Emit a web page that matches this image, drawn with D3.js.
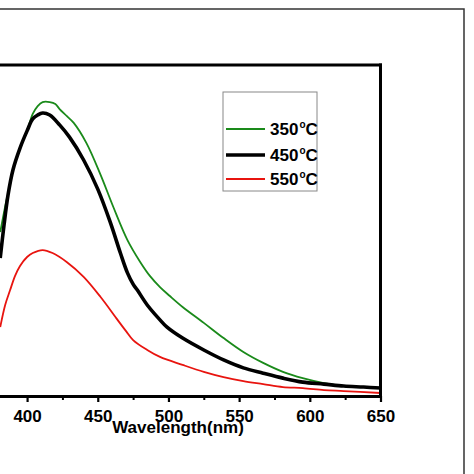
<!DOCTYPE html>
<html><head><meta charset="utf-8">
<script src="https://cdn.jsdelivr.net/npm/d3@7"></script>
<style>html,body{margin:0;padding:0;background:#fff;}svg{display:block;}</style>
</head><body>
<script>
// Wavelength (nm) and PL intensity (a.u.)
const wl350 = [381,383.7,386,386.5,390,395,400,404,407.5,411,416,420,423,428,433,442,452,461,471,480,487,494,501,510,525,539,553,567,581,595,610,624,638,650];
const int350 = [495,555,602,607,683,749,801,852,876,888,888,882,867,846,825,764,668,571,471,405,362,329,302,269,221,175,133,100,73,54,39,30,27,24];
const wl450 = [381,383.7,386.5,390,395,400,404,407.5,411,416,423,430,440,450,459,466,471,475,478,485,494,499,510,525,539,553,567,581,595,610,624,638,650];
const int450 = [417,517,607,683,749,801,837,849,855,849,819,782,713,625,523,432,372,338,320,275,230,208,175,139,109,85,69,54,42,36,30,27,24];
const wl550 = [381,384.5,388,391.5,395,400,404,411,418,428,440,452,464,470,475,485,494,510,525,539,553,567,581,595,610,624,650];
const int550 = [208,275,320,363,393,420,432,441,432,405,360,299,230,196,169,139,118,94,73,57,45,36,27,24,18,15,9];
const seriesNames = ["350", "450", "550"];
const seriesColors = ["#1a8a1a", "#000000", "#e8140f"];
const majorTicks = [400,450,500,550,600,650];
const minorTicks = [375,425,475,525,575,625];
const xTitle = "Wavelength(nm)";

const W = 474, H = 474;
const svg = d3.select("body").append("svg").attr("width", W).attr("height", H);
const font = "'Liberation Sans', Arial, sans-serif";

// outer frame (cropped)
svg.append("path").attr("d", `M-5,9 H464 V${H+5}`).attr("fill","none").attr("stroke","#333").attr("stroke-width",1.5);

const x = d3.scaleLinear().domain([350,650]).range([-43.6,380.5]);
const y = d3.scaleLinear().domain([0,1000]).range([396,65]);

const series = [
  {name: seriesNames[0], wl: wl350, v: int350, color: seriesColors[0], w: 1.8},
  {name: seriesNames[1], wl: wl450, v: int450, color: seriesColors[1], w: 3.6},
  {name: seriesNames[2], wl: wl550, v: int550, color: seriesColors[2], w: 1.8}
];
const line = d3.line().x(d => x(d[0])).y(d => y(d[1])).curve(d3.curveCatmullRom.alpha(0.5));
// draw order: red, green, black on top
[series[2], series[0], series[1]].forEach(s => {
  svg.append("path").datum(s.wl.map((w,i)=>[w, s.v[i]]))
    .attr("d", line).attr("fill","none").attr("stroke", s.color)
    .attr("stroke-width", s.w).attr("stroke-linejoin","round");
});

// plot frame top and right
svg.append("line").attr("x1", x(350)).attr("x2", x(650)+1.5).attr("y1", y(1000)).attr("y2", y(1000)).attr("stroke","#000").attr("stroke-width",3);
svg.append("line").attr("x1", x(650)).attr("x2", x(650)).attr("y1", y(1000)-1.5).attr("y2", y(0)).attr("stroke","#000").attr("stroke-width",3);

// bottom axis
const gx = svg.append("g").attr("transform", `translate(0,${y(0)})`);
gx.call(d3.axisBottom(x).tickValues(majorTicks).tickSize(6).tickSizeOuter(0).tickFormat(d3.format("d")));
gx.select(".domain").attr("stroke","#000").attr("stroke-width",3.2);
gx.selectAll(".tick line").attr("stroke","#000").attr("stroke-width",2.2);
gx.selectAll(".tick text").attr("font-family", font).attr("font-weight","bold").attr("font-size",17).attr("fill","#000").attr("dy",0).attr("y",26);
const gm = svg.append("g").attr("transform", `translate(0,${y(0)})`);
gm.call(d3.axisBottom(x).tickValues(minorTicks).tickSize(4).tickFormat(""));
gm.select(".domain").remove();
gm.selectAll(".tick line").attr("stroke","#000").attr("stroke-width",2);

svg.append("text").attr("x",178).attr("y",433).attr("text-anchor","middle")
  .attr("font-family",font).attr("font-weight","bold").attr("font-size",17).text(xTitle);

// legend
const lg = svg.append("g");
lg.append("rect").attr("x",223).attr("y",92).attr("width",94).attr("height",99)
  .attr("fill","#fff").attr("stroke","#888").attr("stroke-width",1);
const ly = [129,155,179];
series.forEach((s,i) => {
  lg.append("line").attr("x1",226).attr("x2",265).attr("y1",ly[i]).attr("y2",ly[i])
    .attr("stroke", s.color).attr("stroke-width", s.w);
  const t = lg.append("text").attr("x",270).attr("y",ly[i]+6)
    .attr("font-family",font).attr("font-weight","bold").attr("font-size",17);
  t.append("tspan").text(s.name);
  t.append("tspan").attr("font-size",10).attr("dy",-7).attr("dx",1).text("o");
  t.append("tspan").attr("dy",7).text("C");
});
</script>
</body></html>
